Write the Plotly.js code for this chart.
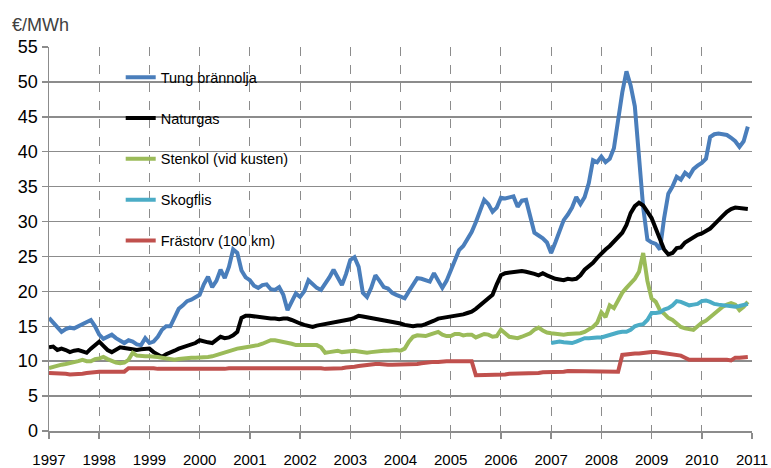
<!DOCTYPE html>
<html>
<head>
<meta charset="utf-8">
<script src="https://cdn.plot.ly/plotly-3.0.1.min.js"></script>
<style>html,body{margin:0;padding:0;background:#fff;}#chart{width:771px;height:468px;}</style>
</head>
<body>
<div id="chart"></div>
<script>
// Monthly prices, €/MWh, Jan 1997 – Dec 2010
const startYear = 1997;
const tickYears = ["1997","1998","1999","2000","2001","2002","2003","2004","2005","2006","2007","2008","2009","2010","2011"];
const yTicks = [0,5,10,15,20,25,30,35,40,45,50,55];

const tungBrannolja = [
16.2,15.5,14.8,14.2,14.6,14.8,14.7,15.0,15.2,15.5,15.9,15.0,
13.8,13.2,13.5,13.8,13.3,12.9,12.6,13.0,12.8,12.4,12.3,13.3,
12.6,12.8,13.5,14.5,15.0,15.0,16.2,17.5,18.0,18.6,18.8,19.2,
19.5,21.0,22.1,20.6,21.5,23.1,21.9,23.5,26.0,25.5,23.0,22.0,
21.6,20.8,20.5,20.9,21.0,20.3,20.2,20.6,19.5,17.3,18.5,19.7,
19.2,20.0,21.6,21.0,20.5,20.2,21.0,22.0,23.1,22.0,20.9,22.5,
24.5,24.9,23.5,19.8,19.2,20.5,22.3,21.5,20.6,20.4,19.8,19.5,
19.2,19.0,20.0,21.0,21.9,21.8,21.6,21.4,22.6,21.5,20.5,21.5,
23.0,24.5,25.9,26.5,27.4,28.5,29.9,31.5,33.1,32.5,31.4,32.0,
33.4,33.3,33.5,33.6,32.1,33.0,33.1,31.0,28.4,28.0,27.6,27.0,
25.5,27.0,28.5,30.2,31.0,32.0,33.5,32.5,33.5,35.5,38.8,38.5,
39.3,38.5,39.0,40.5,44.5,48.5,51.5,49.5,46.5,40.0,32.0,27.4,
27.0,26.8,26.0,30.5,34.0,35.0,36.4,36.0,37.0,36.5,37.5,38.0,
38.4,39.0,42.1,42.5,42.6,42.5,42.4,42.0,41.5,40.7,41.5,43.6];

const naturgas = [
12.0,12.1,11.6,11.8,11.6,11.3,11.5,11.6,11.4,11.2,11.8,12.3,
12.8,12.2,11.6,11.3,11.7,12.0,11.9,11.8,11.8,11.6,11.7,11.8,
11.8,11.3,11.0,10.6,11.0,11.2,11.5,11.8,12.0,12.3,12.5,12.6,
13.0,12.8,12.7,12.6,13.0,13.5,13.3,13.4,13.7,14.2,16.2,16.5,
16.5,16.4,16.3,16.2,16.2,16.1,16.1,16.0,16.1,16.1,15.9,15.6,
15.4,15.2,15.0,14.9,15.1,15.2,15.3,15.5,15.6,15.7,15.8,15.9,
16.0,16.2,16.5,16.4,16.3,16.2,16.1,16.0,15.9,15.8,15.7,15.6,
15.4,15.2,15.1,15.0,15.1,15.1,15.3,15.5,15.8,16.1,16.2,16.3,
16.4,16.4,16.5,16.7,16.9,17.1,17.5,18.0,18.6,19.0,19.5,21.0,
22.3,22.6,22.7,22.8,22.8,22.9,22.8,22.7,22.5,22.3,22.6,22.3,
22.0,21.8,21.7,21.6,21.8,21.7,21.8,22.3,23.1,23.6,24.1,24.8,
25.5,26.0,26.5,27.2,27.8,28.4,29.5,31.2,32.2,32.7,32.3,31.5,
30.5,29.0,27.5,26.0,25.3,25.5,26.2,26.3,27.0,27.4,27.8,28.1,
28.3,28.6,29.0,29.6,30.3,30.8,31.4,31.8,32.0,31.9,31.8,31.8];

const stenkol = [
9.0,9.2,9.4,9.5,9.6,9.7,9.8,10.0,10.2,10.0,10.0,10.3,
10.4,10.6,10.3,10.0,9.8,9.7,9.8,10.2,11.2,10.8,10.7,10.7,
10.7,10.7,10.6,10.5,10.4,10.3,10.2,10.3,10.4,10.5,10.5,10.5,
10.5,10.5,10.6,10.7,10.9,11.0,11.2,11.4,11.6,11.8,11.9,12.0,
12.0,12.2,12.3,12.5,12.8,13.0,13.0,12.9,12.8,12.6,12.5,12.3,
12.3,12.4,12.4,12.4,12.3,12.0,11.2,11.3,11.4,11.5,11.3,11.4,
11.5,11.5,11.4,11.3,11.2,11.3,11.4,11.5,11.5,11.5,11.6,11.6,
11.5,11.8,12.8,13.5,13.7,13.6,13.6,13.8,14.0,14.2,13.8,13.6,
13.6,13.9,13.9,13.7,13.8,13.8,13.4,13.6,13.9,13.8,13.5,13.6,
14.5,14.0,13.5,13.4,13.3,13.5,13.7,14.0,14.5,14.8,14.4,14.1,
14.0,13.9,13.9,13.8,13.9,13.9,13.9,14.0,14.2,14.5,14.9,15.5,
17.0,16.3,18.0,17.6,18.8,19.8,20.5,21.2,21.8,22.8,25.5,21.5,
19.0,18.5,17.3,16.8,16.2,15.9,15.3,14.9,14.7,14.6,14.5,15.0,
15.5,15.8,16.3,16.8,17.3,17.8,18.1,18.3,18.1,17.3,17.8,18.5];

// Skogflis series starts January 2007
const skogflisStartYear = 2007;
const skogflis = [
12.6,12.7,12.8,12.7,12.6,12.6,12.8,13.0,13.3,13.3,13.4,13.4,
13.4,13.6,13.8,14.0,14.1,14.2,14.2,14.5,15.0,15.2,15.3,15.9,
16.9,16.9,17.0,17.4,17.6,18.0,18.6,18.5,18.2,18.0,18.1,18.2,
18.6,18.7,18.5,18.2,18.1,18.0,18.0,17.9,17.8,17.9,18.0,18.2];

const frastorv = [
8.3,8.3,8.2,8.2,8.2,8.1,8.1,8.1,8.2,8.3,8.4,8.4,
8.5,8.5,8.5,8.5,8.5,8.5,8.5,9.0,9.0,9.1,9.1,9.1,
9.0,9.0,8.9,8.9,8.9,8.9,8.8,8.8,8.8,8.8,8.8,8.8,
8.8,8.8,8.8,8.9,8.9,8.9,8.9,9.0,9.0,9.0,9.0,9.1,
9.1,9.1,9.1,9.1,9.1,9.1,9.1,9.1,9.1,9.1,9.1,9.1,
9.0,9.0,9.0,9.0,9.0,9.0,8.9,8.9,8.9,9.0,9.0,9.1,
9.1,9.2,9.3,9.4,9.5,9.5,9.6,9.6,9.5,9.5,9.5,9.5,
9.5,9.5,9.6,9.6,9.6,9.7,9.8,9.9,9.9,9.9,10.0,10.0,
10.0,10.0,10.0,10.0,10.0,10.0,8.0,8.0,8.0,8.0,8.1,8.1,
8.1,8.1,8.2,8.2,8.2,8.3,8.3,8.3,8.3,8.3,8.4,8.4,
8.4,8.5,8.5,8.5,8.6,8.6,8.6,8.6,8.6,8.6,8.6,8.6,
8.6,8.5,8.5,8.5,8.5,10.9,11.0,11.0,11.1,11.1,11.2,11.2,
11.3,11.3,11.2,11.1,11.0,11.0,10.9,10.8,10.5,10.2,10.2,10.2,
10.3,10.3,10.3,10.2,10.2,10.2,10.2,10.1,10.5,10.5,10.6,10.6];

const seriesNames = ["Tung brännolja","Naturgas","Stenkol (vid kusten)","Skogflis","Frästorv (100 km)"];
const seriesColors = ["#4A7EBB","#000000","#9BBB59","#4BACC6","#C0504D"];

function monthAxis(y0, n){ const a=[]; for(let i=0;i<n;i++) a.push(y0 + i/12); return a; }

const dataSets = [
  {y: tungBrannolja, x0: startYear},
  {y: naturgas, x0: startYear},
  {y: stenkol, x0: startYear},
  {y: skogflis, x0: skogflisStartYear},
  {y: frastorv, x0: startYear}
];

const traces = dataSets.map((d,i)=>({
  type:'scatter', mode:'lines',
  x: monthAxis(d.x0, d.y.length), y: d.y,
  name: seriesNames[i], legendgroup: 'g'+i,
  line:{color: seriesColors[i], width:4, shape:'linear'},
  hoverinfo:'x+y'
}));

const layout = {
  width:771, height:468,
  margin:{l:49, r:19, t:47, b:37},
  paper_bgcolor:'#ffffff', plot_bgcolor:'#ffffff',
  font:{family:'"Liberation Sans", Arial, sans-serif', color:'#000000'},
  showlegend:true,
  legend:{
    x:0.102, y:0.963, xanchor:'left', yanchor:'top',
    bgcolor:'rgba(0,0,0,0)', borderwidth:0,
    traceorder:'grouped', tracegroupgap:19,
    font:{size:14.5, color:'#000000', family:'"Liberation Sans", Arial, sans-serif'}
  },
  xaxis:{
    type:'linear', range:[1997, 2011],
    tickmode:'linear', tick0:1997, dtick:1, tickformat:'d',
    showgrid:true, gridcolor:'#8c8c8c', gridwidth:1, griddash:'dash',
    showline:true, linecolor:'#8c8c8c', linewidth:1.5,
    ticks:'outside', ticklen:6, tickcolor:'#8c8c8c', tickwidth:1.5,
    ticklabelstandoff:8,
    tickfont:{size:15, color:'#000000', family:'"Liberation Sans", Arial, sans-serif'},
    zeroline:false, fixedrange:true, layer:'below traces'
  },
  yaxis:{
    type:'linear', range:[0,55],
    tickmode:'linear', tick0:0, dtick:5,
    showgrid:true, gridcolor:'#8c8c8c', gridwidth:1.5,
    showline:true, linecolor:'#8c8c8c', linewidth:1.5,
    ticks:'outside', ticklen:6, tickcolor:'#8c8c8c', tickwidth:1.5,
    tickfont:{size:18, color:'#000000', family:'"Liberation Sans", Arial, sans-serif'},
    zeroline:false, fixedrange:true, layer:'below traces'
  },
  annotations:[{
    text:'€/MWh', xref:'paper', yref:'paper', x:-0.055, y:1.057,
    xanchor:'left', yanchor:'middle', showarrow:false,
    font:{size:18, color:'#404040', family:'"Liberation Sans", Arial, sans-serif'}
  }]
};

Plotly.newPlot('chart', traces, layout, {staticPlot:true, displayModeBar:false});
</script>
</body>
</html>
